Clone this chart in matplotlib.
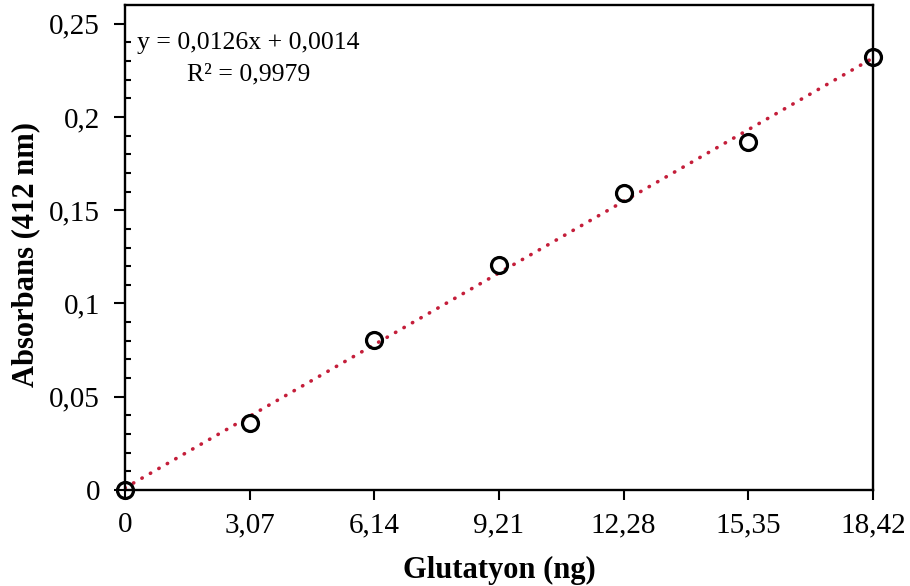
import numpy as np
import matplotlib
matplotlib.use('Agg')
import matplotlib.pyplot as plt
from matplotlib.ticker import FixedLocator, FuncFormatter

# data
glutatyon = [0, 3.07, 6.14, 9.21, 12.28, 15.35, 18.42]
absorbans = [0.0, 0.036, 0.0805, 0.1205, 0.159, 0.1865, 0.232]
x_ticks = [0, 3.07, 6.14, 9.21, 12.28, 15.35, 18.42]
y_ticks = [0, 0.05, 0.1, 0.15, 0.2, 0.25]

plt.rcParams['font.family'] = ['Liberation Serif', 'DejaVu Serif']

fig = plt.figure(figsize=(9.1, 5.86), dpi=100)
ax = fig.add_axes([125 / 910, 96 / 586, 748 / 910, 485 / 586])

# linear trendline (least squares, as in the spreadsheet)
slope, intercept = np.polyfit(glutatyon, absorbans, 1)
xs = np.array([glutatyon[0], glutatyon[-1]])
ax.plot(xs, slope * xs + intercept, color='#c41e3a', lw=2.6,
        linestyle=(0, (0.1, 2.6)), dash_capstyle='round', zorder=2)

ax.plot(glutatyon, absorbans, 'o', ms=11.5, mfc='none', mec='black', mew=2.3,
        clip_on=False, zorder=3)

ax.set_xlim(0, 18.42)
ax.set_ylim(0, 0.26)
ax.xaxis.set_major_locator(FixedLocator(x_ticks))
ax.yaxis.set_major_locator(FixedLocator(y_ticks))
ax.yaxis.set_minor_locator(FixedLocator(np.arange(0.01, 0.25, 0.01)))

comma = lambda v, p: ('%g' % v).replace('.', ',')
ax.xaxis.set_major_formatter(FuncFormatter(comma))
ax.yaxis.set_major_formatter(FuncFormatter(comma))

for s in ax.spines.values():
    s.set_linewidth(1.7)
ax.tick_params(axis='x', which='major', direction='out', length=7, width=1.5,
               labelsize=21, pad=9)
ax.tick_params(axis='y', which='major', direction='out', length=8, width=1.5,
               labelsize=21, pad=10)
ax.tick_params(axis='y', which='minor', direction='in', length=4, width=1.5)

ax.set_xlabel('Glutatyon (ng)', fontsize=22, fontweight='bold', labelpad=13)
ax.set_ylabel('Absorbans (412 nm)', fontsize=22, fontweight='bold')
ax.yaxis.set_label_coords(-0.113, 0.485)

ax.text(0.016, 0.922, 'y = 0,0126x + 0,0014', transform=ax.transAxes,
        fontsize=18.5, ha='left', va='center')
ax.text(0.165, 0.856, 'R² = 0,9979', transform=ax.transAxes,
        fontsize=18.5, ha='center', va='center')

fig.savefig('out.png', dpi=100)
